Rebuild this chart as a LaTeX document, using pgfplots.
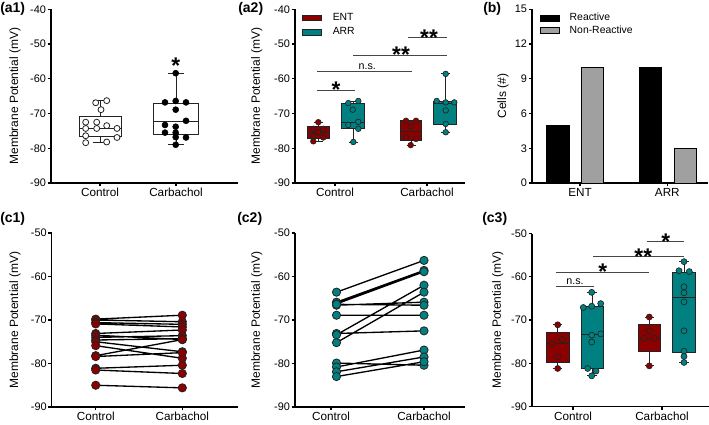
\documentclass[border=0pt]{standalone}
\usepackage{fontspec}
\setmainfont{Liberation Sans}
\usepackage{pgfplots}
\pgfplotsset{compat=1.18}
\definecolor{entred}{RGB}{140,0,0}
\definecolor{arrteal}{RGB}{0,128,128}
\definecolor{nrgray}{RGB}{160,160,160}
\definecolor{edge}{RGB}{35,35,35}
\definecolor{sigc}{RGB}{70,70,70}
\newcommand\sig[1]{\smash{\raisebox{-0.58em}{#1}}}
\tikzset{
  sigstar/.style={inner sep=0pt, font=\bfseries\fontsize{17}{17}\selectfont},
  nstxt/.style={inner sep=0pt, anchor=base, font=\fontsize{8}{9}\selectfont},
}
\pgfplotsset{
  prism/.style={
    scale only axis, anchor=south west, clip=false,
    axis lines=left, axis line style={-, line width=0.8pt, black},
    tick style={black, line width=0.8pt},
    tick align=outside, major tick length=2.6pt,
    yticklabel style={font=\fontsize{8.2}{9}\selectfont, inner sep=1pt},
    xticklabel style={font=\fontsize{8.8}{10}\selectfont, inner sep=1pt},
    ylabel style={font=\fontsize{9}{10}\selectfont, anchor=center},
  },
  mv/.style={ymin=-90, ymax=-40, ytick={-90,-80,-70,-60,-50,-40},
    yticklabels={-90,-80,-70,-60,-50,-40}, ylabel={Membrane Potential (mV)}},
  mvc/.style={ymin=-90, ymax=-50, ytick={-90,-80,-70,-60,-50},
    yticklabels={-90,-80,-70,-60,-50}, ylabel={Membrane Potential (mV)}},
  bx/.style={draw=edge, line width=0.6pt},
  entpt/.style={only marks, mark=*, mark size=2.1pt, mark options={fill=entred, draw=edge, line width=0.5pt}},
  arrpt/.style={only marks, mark=*, mark size=2.1pt, mark options={fill=arrteal, draw=edge, line width=0.5pt}},
  sigl/.style={sigc, line width=0.7pt},
  legimg/.style={legend image code/.code={\draw[##1, line width=0.6pt] (0pt,-2.2pt) rectangle (14.5pt,2.2pt);}},
}
% box: #1 position, #2 half box width, #3 half cap width, #4 lower whisker, #5 lower quartile,
%      #6 median, #7 upper quartile, #8 upper whisker, #9 fill colour
\newcommand\bplot[9]{%
  \pgfmathsetmacro\bxl{#1-#2}\pgfmathsetmacro\bxr{#1+#2}%
  \pgfmathsetmacro\cxl{#1-#3}\pgfmathsetmacro\cxr{#1+#3}%
  \edef\tmp{\noexpand\addplot[bx, fill=#9] coordinates {(\bxl,#5) (\bxr,#5) (\bxr,#7) (\bxl,#7)} -- cycle;
  \noexpand\addplot[bx, unbounded coords=jump] coordinates {(#1,#7) (#1,#8) (nan,nan) (\cxl,#8) (\cxr,#8) (nan,nan) (#1,#5) (#1,#4) (nan,nan) (\cxl,#4) (\cxr,#4) (nan,nan) (\bxl,#6) (\bxr,#6)};}%
  \tmp}
\begin{document}
\begin{tikzpicture}
\useasboundingbox (0,0) rectangle (531.75pt,318pt);
% ---------- (a1)
\begin{axis}[prism, mv, at={(38.25pt,180.75pt)}, width=140.25pt, height=130.3pt,
  xmin=51, xmax=238, xtick={100,176}, xticklabels={Control,Carbachol},
  ylabel style={at={(axis description cs:-0.1925,0.5)}}]
\bplot{100}{21}{7.5}{-78.4}{-76.6}{-74.3}{-70.9}{-66.3}{white}
\bplot{176}{22.5}{8}{-79.0}{-76.1}{-72.2}{-67.1}{-58.4}{white}
\addplot[only marks, mark=*, mark size=2.25pt, mark options={fill=white, draw=edge, line width=0.6pt}] coordinates {
(106.7,-66.3) (95.7,-66.9) (101,-68.9) (85.7,-72.5) (96.7,-72.5) (106.7,-73.5) (85.7,-74.3) (96.7,-74.3) (117,-74.3) (85.7,-76.4) (117,-76.9) (85.7,-78.4) (106.7,-78.2)};
\addplot[only marks, mark=*, mark size=2.25pt, mark options={fill=black, draw=black}] coordinates {
(175.7,-58.4) (165,-66.8) (175.7,-66.4) (186,-66.8) (175.7,-68.9) (186,-72.1) (165,-73.3) (175.7,-73.8) (165,-75.5) (175.7,-75.5) (186,-76.9) (175.7,-76.8) (175.7,-79.0)};
\node[sigstar] at (axis cs:175.7,-54.7) {\sig{*}};
\end{axis}
% ---------- (a2)
\begin{axis}[prism, mv, legimg, at={(221.25pt,180.75pt)}, width=127.5pt, height=130.3pt,
  xmin=295, xmax=465, xtick={335,427}, xticklabels={Control,Carbachol},
  ylabel style={at={(axis description cs:-0.225,0.5)}},
  legend entries={ENT,ARR},
  legend style={at={(axis cs:301.7,-40.9)}, anchor=north west, draw=none, fill=none, inner sep=0pt,
    row sep=2.8pt, column sep=7.5pt, font=\fontsize{7.8}{9}\selectfont, nodes={inner sep=0.5pt}, cells={anchor=west}}]
\addlegendimage{fill=entred, draw=edge}
\addlegendimage{fill=arrteal, draw=edge}
\bplot{318.5}{10.9}{4.5}{-78.0}{-77.2}{-75.4}{-73.7}{-72.5}{entred}
\bplot{353}{11.3}{4.5}{-78.2}{-74.2}{-72.5}{-67.2}{-66.4}{arrteal}
\bplot{411}{10.5}{4.5}{-79.1}{-77.7}{-75.1}{-72.1}{-72.1}{entred}
\bplot{445}{11.7}{4.5}{-75.4}{-73.0}{-67.0}{-66.6}{-58.6}{arrteal}
\addplot[entpt] coordinates {(318.3,-72.5) (313.3,-74.4) (323.3,-74.4) (318.3,-75.4) (313.3,-76.4) (323.3,-76.9) (313.3,-78.0)};
\addplot[arrpt] coordinates {(348.3,-67.0) (358.3,-66.4) (352.7,-68.9) (358.3,-72.4) (348.3,-73.3) (358.3,-74.4) (353.3,-78.2)};
\addplot[entpt] coordinates {(406,-72.1) (416,-72.1) (410.7,-73.7) (406,-76.9) (416,-77.3) (410.7,-79.1)};
\addplot[arrpt] coordinates {(445.7,-58.6) (436.7,-66.4) (445.7,-66.8) (454.3,-66.8) (445.7,-69.1) (445.7,-73.0) (445.7,-75.4)};
\addplot[sigl] coordinates {(316.7,-63.3) (355.3,-63.3)};
\addplot[sigl] coordinates {(317.3,-58) (411.7,-58)};
\addplot[sigl] coordinates {(353.3,-53.4) (447.3,-53.4)};
\addplot[sigl] coordinates {(408.3,-48.2) (447.3,-48.2)};
\node[sigstar] at (axis cs:336,-61.7) {\sig{*}};
\node[nstxt] at (axis cs:367.3,-57.4) {n.s.};
\node[sigstar] at (axis cs:401,-51.6) {\sig{**}};
\node[sigstar] at (axis cs:429,-46.7) {\sig{**}};
\end{axis}
% ---------- (b)
\begin{axis}[prism, legimg, at={(399pt,180.75pt)}, width=132pt, height=130.3pt,
  xmin=532, xmax=708, xtick={580,667.3}, xticklabels={ENT,ARR},
  ymin=0, ymax=15, ytick={0,3,6,9,12,15}, yticklabels={0,3,6,9,12,15}, ylabel={Cells (\#)},
  ylabel style={at={(axis description cs:-0.165,0.5)}},
  legend entries={Reactive,Non-Reactive},
  legend style={at={(axis cs:539.3,14.74)}, anchor=north west, draw=none, fill=none, inner sep=0pt,
    row sep=1.2pt, column sep=7pt, font=\fontsize{7.8}{9}\selectfont, nodes={inner sep=0.5pt}, cells={anchor=west}}]
\addlegendimage{fill=black, draw=black}
\addlegendimage{fill=nrgray, draw=black}
\addplot[ybar, bar width=22.4, bar shift=0pt, fill=black, draw=black, line width=0.6pt] coordinates {(557.8,5) (650.3,10)};
\addplot[ybar, bar width=22.4, bar shift=0pt, fill=nrgray, draw=black, line width=0.6pt] coordinates {(592.5,10) (685.5,3)};
\end{axis}
% ---------- (c1)
\begin{axis}[prism, mvc, at={(38.8pt,12.75pt)}, width=139.7pt, height=130.5pt,
  xmin=51.7, xmax=238, xtick={95.7,182.3}, xticklabels={Control,Carbachol},
  ylabel style={at={(axis description cs:-0.197,0.5)}}]
\addplot[black, line width=1pt, unbounded coords=jump, mark=*, mark size=3.1pt, mark options={fill=entred, draw=edge, line width=0.6pt}] coordinates {
(95.7,-69.8) (182.3,-68.9) (nan,nan)
(95.7,-70.0) (182.3,-70.4) (nan,nan)
(95.7,-70.6) (182.3,-71.0) (nan,nan)
(95.7,-70.9) (182.3,-71.6) (nan,nan)
(95.7,-73.1) (182.3,-72.3) (nan,nan)
(95.7,-73.5) (182.3,-74.5) (nan,nan)
(95.7,-74.0) (182.3,-73.6) (nan,nan)
(95.7,-74.6) (182.3,-74.3) (nan,nan)
(95.7,-75.0) (182.3,-77.3) (nan,nan)
(95.7,-75.9) (182.3,-78.8) (nan,nan)
(95.7,-78.2) (182.3,-74.5) (nan,nan)
(95.7,-78.4) (182.3,-77.5) (nan,nan)
(95.7,-81.1) (182.3,-80.4) (nan,nan)
(95.7,-81.5) (182.3,-82.3) (nan,nan)
(95.7,-85.0) (182.3,-85.6)};
\end{axis}
% ---------- (c2)
\begin{axis}[prism, mvc, at={(221.25pt,12.75pt)}, width=127.5pt, height=130.5pt,
  xmin=295, xmax=465, xtick={331,424}, xticklabels={Control,Carbachol},
  ylabel style={at={(axis description cs:-0.225,0.5)}}]
\addplot[black, line width=1pt, unbounded coords=jump, mark=*, mark size=3.1pt, mark options={fill=arrteal, draw=edge, line width=0.6pt}] coordinates {
(336.5,-63.6) (424,-56.3) (nan,nan)
(336.5,-65.9) (424,-58.6) (nan,nan)
(336.5,-66.3) (424,-58.9) (nan,nan)
(336.5,-66.6) (424,-65.9) (nan,nan)
(336.5,-66.4) (424,-66.6) (nan,nan)
(336.5,-68.9) (424,-68.9) (nan,nan)
(336.5,-73.1) (424,-72.5) (nan,nan)
(336.5,-73.4) (424,-62.0) (nan,nan)
(336.5,-75.2) (424,-63.6) (nan,nan)
(336.5,-79.9) (424,-80.4) (nan,nan)
(336.5,-80.8) (424,-76.9) (nan,nan)
(336.5,-81.9) (424,-78.5) (nan,nan)
(336.5,-83.0) (424,-79.6)};
\end{axis}
% ---------- (c3)
\begin{axis}[prism, mvc, at={(399pt,13.1pt)}, width=132.75pt, height=129.75pt,
  xmin=532, xmax=709, xtick={573,662}, xticklabels={Control,Carbachol},
  ylabel style={at={(axis description cs:-0.194,0.5)}}]
\bplot{557.5}{11.5}{4.75}{-81.2}{-79.8}{-75.5}{-72.8}{-71.1}{entred}
\bplot{592.2}{11.2}{4.75}{-82.9}{-81.2}{-73.3}{-66.8}{-63.6}{arrteal}
\bplot{649.5}{11.2}{4.75}{-80.6}{-77.3}{-74.2}{-71.1}{-69.3}{entred}
\bplot{684.2}{11.5}{4.75}{-79.8}{-77.4}{-64.8}{-59.0}{-56.5}{arrteal}
\addplot[entpt, mark size=2.25pt] coordinates {(557.7,-71.1) (562.3,-74.5) (552.3,-75.5) (557.7,-78.5) (557.7,-81.2)};
\addplot[arrpt, mark size=2.25pt] coordinates {(591.7,-63.6) (583.3,-67.1) (591.7,-66.8) (600.7,-66.2) (591.7,-73.5) (600.7,-73.2) (591.7,-75.1) (587.7,-81.2) (596,-81.8) (591.7,-82.9)};
\addplot[entpt, mark size=2.25pt] coordinates {(649.3,-69.3) (649.3,-72.5) (644.3,-74.2) (654.3,-74.2) (649.3,-80.6)};
\addplot[arrpt, mark size=2.25pt] coordinates {(684,-56.5) (679,-58.6) (689.3,-58.8) (684,-62.3) (684,-63.7) (684,-65.8) (684,-72.5) (684,-77.2) (684,-78.4) (684,-79.8)};
\addplot[sigl] coordinates {(646.7,-51.8) (684.3,-51.8)};
\addplot[sigl] coordinates {(593.3,-55.2) (684.3,-55.2)};
\addplot[sigl] coordinates {(555.7,-58.9) (649.3,-58.9)};
\addplot[sigl] coordinates {(555.7,-62.3) (594,-62.3)};
\node[sigstar] at (axis cs:665.7,-50.6) {\sig{*}};
\node[sigstar] at (axis cs:643.3,-54.1) {\sig{**}};
\node[sigstar] at (axis cs:602.7,-57.7) {\sig{*}};
\node[nstxt] at (axis cs:575,-61.9) {n.s.};
\end{axis}
% ---------- panel labels
\begin{scope}[every node/.style={inner sep=0pt, anchor=west, font=\bfseries\fontsize{10.5}{12}\selectfont}]
\node at (0pt,311.25pt) {(a1)};
\node at (178.5pt,311.25pt) {(a2)};
\node at (362.25pt,311.25pt) {(b)};
\node at (0pt,153.75pt) {(c1)};
\node at (177.75pt,153.75pt) {(c2)};
\node at (361.5pt,153.75pt) {(c3)};
\end{scope}
\end{tikzpicture}
\end{document}
